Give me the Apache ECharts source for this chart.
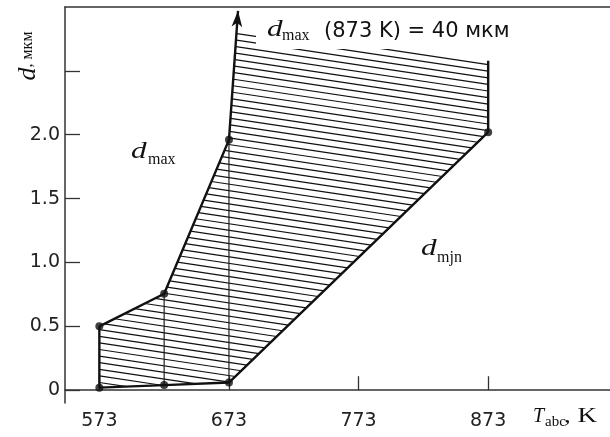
<!DOCTYPE html>
<html><head><meta charset="utf-8">
<script src="https://cdn.jsdelivr.net/npm/echarts@6/dist/echarts.min.js"></script>
<style>html,body{margin:0;padding:0;background:#fff}#c{width:610px;height:437px}</style>
</head><body><div id="c"></div>
<script>
// ---- data ----
const xTicks = [573, 673, 773, 873];
const yTicks = [0, 0.5, 1.0, 1.5, 2.0, 2.5];
const yLabels = [0, 0.5, 1.0, 1.5, 2.0];
const dMaxT = [573, 623, 673];
const dMaxV = [0.50, 0.755, 1.96];
const dMinT = [573, 623, 673, 873];
const dMinV = [0.02, 0.04, 0.06, 2.02];
const arrowT = [673, 680];
const arrowV = [1.96, 2.97];
const edgeT = [873, 873];
const edgeV = [2.02, 2.58];
const hatchTopT = [873, 679.6];
const hatchTopV = [2.58, 2.84];

const zip = (a, b) => a.map((v, i) => [v, b[i]]);
const dMax = zip(dMaxT, dMaxV);
const dMin = zip(dMinT, dMinV);
const edge = zip(edgeT, edgeV);
const hatchPoly = dMin.concat(zip(hatchTopT, hatchTopV), dMax.slice().reverse());
const verticals = [1, 2].map(i => [[dMinT[i], dMinV[i]], [dMaxT[i], dMaxV[i]]]);
const dots = dMax.concat(dMin);

// hatching: parallel slanted lines clipped to the polygon (computed in pixel space)
function hatch(pts, slope, step) {
  const cs = pts.map(p => p[1] - slope * p[0]);
  const cMin = Math.min(...cs), cMax = Math.max(...cs);
  const out = [];
  for (let c = cMin + step * 0.6; c < cMax; c += step) {
    const xs = [];
    for (let i = 0; i < pts.length; i++) {
      const a = pts[i], b = pts[(i + 1) % pts.length];
      const fa = a[1] - slope * a[0] - c, fb = b[1] - slope * b[0] - c;
      if ((fa < 0) !== (fb < 0)) {
        const t = fa / (fa - fb);
        xs.push(a[0] + t * (b[0] - a[0]));
      }
    }
    xs.sort((p, q) => p - q);
    for (let k = 0; k + 1 < xs.length; k += 2) {
      out.push({ type: 'line', shape: { x1: xs[k], y1: c + slope * xs[k], x2: xs[k + 1], y2: c + slope * xs[k + 1] },
        style: { stroke: '#111', lineWidth: 1.2 } });
    }
  }
  return out;
}

const chart = echarts.init(document.getElementById('c'));
const axisColor = '#333';
const serif = '"Liberation Serif", "Times New Roman", serif';
function txt(text, x, y, font, extra) {
  return Object.assign({ type: 'text', z: 60, x: x, y: y,
    style: { text: text, font: font, fill: '#111', align: 'left', verticalAlign: 'middle' } }, extra || {});
}
const option = {
  animation: false,
  grid: { left: 65, right: 0, top: 7, bottom: 34 },
  xAxis: [{
    type: 'value', min: 546.5, max: 967,
    axisLine: { show: true, lineStyle: { color: axisColor, width: 1.5 } },
    axisTick: { show: true, inside: true, length: 14, customValues: xTicks, lineStyle: { color: axisColor, width: 1.3 } },
    axisLabel: { customValues: xTicks, fontFamily: 'DejaVu Sans', fontSize: 19, color: '#222', margin: 9 },
    splitLine: { show: false }
  }, {
    type: 'value', position: 'top', min: 546.5, max: 967,
    axisLine: { show: true, lineStyle: { color: axisColor, width: 1.5 } },
    axisTick: { show: false }, axisLabel: { show: false }, splitLine: { show: false }
  }],
  yAxis: {
    type: 'value', min: -0.1, max: 3.0,
    axisLine: { show: true, lineStyle: { color: axisColor, width: 1.5 } },
    axisTick: { show: true, inside: true, length: 15, customValues: yTicks, lineStyle: { color: axisColor, width: 1.3 } },
    axisLabel: { customValues: yLabels, fontFamily: 'DejaVu Sans', fontSize: 19, color: '#222', margin: 5,
      formatter: v => (v === 0 ? '0' : v.toFixed(1)) },
    splitLine: { show: false }
  },
  series: [
    { type: 'custom', coordinateSystem: 'cartesian2d', z: 1, silent: true,
      data: [[573, 0]],
      renderItem: (params, api) => ({
        type: 'group',
        children: hatch(hatchPoly.map(p => api.coord(p)), 0.15, 6.6)
      }) },
    { type: 'line', data: dMax, symbol: 'none', z: 3, lineStyle: { color: '#111', width: 2.4 },
      markLine: { silent: true, symbol: ['none', 'arrow'], symbolSize: [8, 16],
        lineStyle: { color: '#111', width: 2.4, type: 'solid' }, label: { show: false },
        data: [[{ coord: [arrowT[0], arrowV[0]] }, { coord: [arrowT[1], arrowV[1]] }]] } },
    { type: 'line', data: dMin, symbol: 'none', z: 3, lineStyle: { color: '#111', width: 2.4 } },
    { type: 'line', data: [dMax[0], dMin[0]], symbol: 'none', z: 3, lineStyle: { color: '#111', width: 2.4 } },
    { type: 'line', data: edge, symbol: 'none', z: 3, lineStyle: { color: '#111', width: 2.4 } },
    ...verticals.map(v => ({ type: 'line', data: v, symbol: 'none', z: 2, lineStyle: { color: '#222', width: 1.2 } })),
    { type: 'scatter', data: dots, symbolSize: 8, z: 5, itemStyle: { color: '#111' } }
  ],
  graphic: [
    { type: 'rect', z: 50, shape: { x: 256, y: 12, width: 266, height: 37 }, style: { fill: '#fff' } },
    txt('d', 267, 30, 'italic 24px ' + serif, { scaleX: 1.3 }),
    txt('max', 282, 36, '16px ' + serif),
    txt('(873 K) = 40 мкм', 324, 32, '21px "DejaVu Sans"'),
    txt('d', 131, 152, 'italic 24px ' + serif, { scaleX: 1.3 }),
    txt('max', 148, 160, '16px ' + serif),
    txt('d', 421, 249, 'italic 24px ' + serif, { scaleX: 1.3 }),
    txt('mjn', 437, 258, '16px ' + serif),
    txt('T', 533, 417, 'italic 20px ' + serif),
    txt('abc', 545, 422, '15px ' + serif),
    txt(', K', 564, 417, '20px ' + serif, { scaleX: 1.35 }),
    { type: 'text', z: 60, x: 28, y: 56, rotation: Math.PI / 2,
      style: { text: '{d|d}{s|, мкм}', align: 'center', verticalAlign: 'middle', fill: '#111',
        rich: { d: { font: 'italic 26px ' + serif, fill: '#111' }, s: { font: '16px ' + serif, fill: '#111' } } } }
  ]
};
chart.setOption(option);
</script></body></html>
